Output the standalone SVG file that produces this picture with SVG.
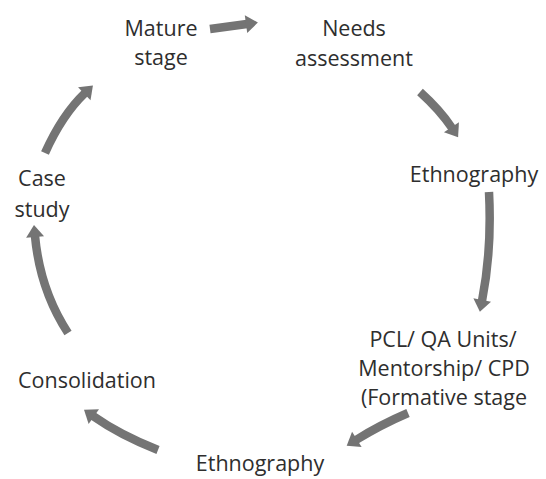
<svg xmlns="http://www.w3.org/2000/svg" width="546" height="479" viewBox="0 0 546 479">
  <style>
    .lbl { font-family: "Open Sans", "Noto Sans", "Liberation Sans", sans-serif; font-size: 21.5px; fill: #2e2e2e; text-anchor: middle; }
    .arr { fill: none; stroke: #747474; stroke-width: 8.5; marker-end: url(#head); }
  </style>
  <defs>
    <marker id="head" markerUnits="userSpaceOnUse" markerWidth="14" markerHeight="18" refX="1" refY="9" orient="auto" overflow="visible">
      <path d="M0,0 L12,9 L0,18 z" fill="#747474"/>
    </marker>
  </defs>
  <rect width="546" height="479" fill="#ffffff"/>
  <g id="connectors">
    <path class="arr" d="M210,29 L247,24"/>
    <path class="arr" d="M420,92 Q440,110 452,128"/>
    <path class="arr" d="M489,192 Q492,250 482,301"/>
    <path class="arr" d="M408,413 Q380,425 356,440"/>
    <path class="arr" d="M158,450 Q120,435 93,416"/>
    <path class="arr" d="M68,333 Q40,290 35,236"/>
    <path class="arr" d="M45,153 Q62,115 85,93"/>
  </g>
  <g id="mature">
    <text class="lbl" x="161" y="36">Mature</text>
    <text class="lbl" x="161" y="65">stage</text>
  </g>
  <g id="needs">
    <text class="lbl" x="354" y="36">Needs</text>
    <text class="lbl" x="354" y="66">assessment</text>
  </g>
  <g id="ethnography1">
    <text class="lbl" x="474" y="182">Ethnography</text>
  </g>
  <g id="pcl">
    <text class="lbl" x="443" y="347">PCL/ QA Units/</text>
    <text class="lbl" x="444" y="376">Mentorship/ CPD</text>
    <text class="lbl" x="444" y="405">(Formative stage</text>
  </g>
  <g id="ethnography2">
    <text class="lbl" x="260" y="471">Ethnography</text>
  </g>
  <g id="consolidation">
    <text class="lbl" x="87" y="388">Consolidation</text>
  </g>
  <g id="casestudy">
    <text class="lbl" x="42" y="186">Case</text>
    <text class="lbl" x="42" y="217">study</text>
  </g>
</svg>
